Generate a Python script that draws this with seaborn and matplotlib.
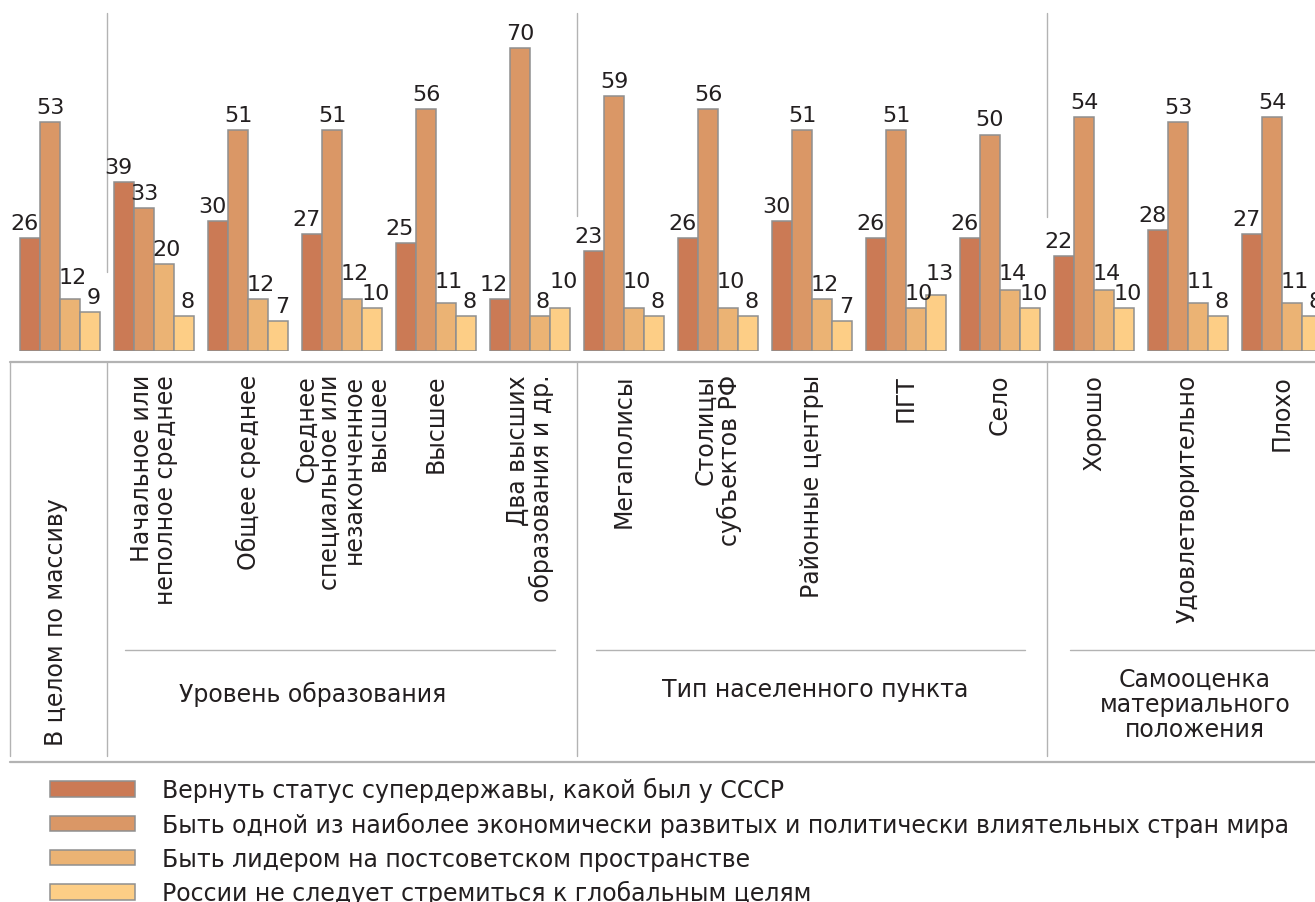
import matplotlib
matplotlib.use("Agg")
import matplotlib.pyplot as plt
import matplotlib.transforms as mtransforms
import pandas as pd
import seaborn as sns

# ---------------- data ----------------
categories = [
    "В целом по массиву",
    "Начальное или\nнеполное среднее",
    "Общее среднее",
    "Среднее\nспециальное или\nнезаконченное\nвысшее",
    "Высшее",
    "Два высших\nобразования и др.",
    "Мегаполисы",
    "Столицы\nсубъектов РФ",
    "Районные центры",
    "ПГТ",
    "Село",
    "Хорошо",
    "Удовлетворительно",
    "Плохо",
]
series = [
    "Вернуть статус супердержавы, какой был у СССР",
    "Быть одной из наиболее экономически развитых и политически влиятельных стран мира",
    "Быть лидером на постсоветском пространстве",
    "России не следует стремиться к глобальным целям",
]
superpower = [26, 39, 30, 27, 25, 12, 23, 26, 30, 26, 26, 22, 28, 27]
developed = [53, 33, 51, 51, 56, 70, 59, 56, 51, 51, 50, 54, 53, 54]
leader = [12, 20, 12, 12, 11, 8, 10, 10, 12, 10, 14, 14, 11, 11]
no_goals = [9, 8, 7, 10, 8, 10, 8, 8, 7, 13, 10, 10, 8, 8]
group_titles = ["Уровень образования", "Тип населенного пункта",
                "Самооценка\nматериального\nположения"]

colors = ["#CB7A55", "#DA9766", "#EBB374", "#FDCE86"]
TXT = "#231f20"
LINE = "#b3b3b3"

rows = []
for vals, s in zip([superpower, developed, leader, no_goals], series):
    for c, v in zip(categories, vals):
        rows.append({"cat": c, "series": s, "value": v})
df = pd.DataFrame(rows)

# ---------------- figure ----------------
sns.set_theme(style="white")
plt.rcParams["font.family"] = ["DejaVu Sans"]

W, H = 1315, 903
DPI = 100
fig = plt.figure(figsize=(W / DPI, H / DPI), dpi=DPI)

def fx(px):
    return px / W

def fy(py):
    return 1 - py / H

left_px, base_px, pitch = 13, 352, 94.0
unit = 4.33
ax = fig.add_axes([fx(left_px), fy(base_px), fx(W - left_px), base_px / H])

sns.barplot(data=df, x="cat", y="value", hue="series", order=categories,
            hue_order=series, palette=colors, width=0.851, errorbar=None,
            edgecolor="#8f8f8f", linewidth=1.1, saturation=1, ax=ax)

ax.set_xlim(-0.5, -0.5 + (W - left_px) / pitch)
ax.set_ylim(0, base_px / unit)
ax.set_axis_off()

handles, labels = ax.get_legend_handles_labels()
if ax.get_legend() is not None:
    ax.get_legend().remove()

# value labels (offsets in pixels above bar top; resolve 3rd/4th collisions)
px2pt = 72.0 / DPI
xshift_px = [-6, 0, 2.5, 4]
gap_px = 9
min_sep = 20
conts = list(ax.containers)
n = len(conts[0])
for j in range(n):
    tops = [conts[k][j].get_height() * unit for k in range(4)]  # px above base
    lift = [t + gap_px for t in tops]
    # keep labels of the 3rd and 4th bars apart
    if abs(lift[2] - lift[3]) < min_sep:
        if lift[2] >= lift[3]:
            lift[2] = lift[3] + min_sep
        else:
            lift[3] = lift[2] + min_sep
    for k in range(4):
        p = conts[k][j]
        h = p.get_height()
        ax.annotate(f"{h:.0f}", (p.get_x() + p.get_width() / 2, h),
                    xytext=(xshift_px[k] * px2pt, (lift[k] - tops[k]) * px2pt),
                    textcoords="offset points", ha="center", va="baseline",
                    fontsize=16, color=TXT, annotation_clip=False)

# separators in the bar area (between groups)
sep_x = [0.5, 5.5, 10.5]
sep_bottom_px = [273, 217, 218]
for sx, sb in zip(sep_x, sep_bottom_px):
    ax.plot([sx, sx], [(base_px - 14) / unit, (base_px - sb) / unit],
            color=LINE, lw=1.0, clip_on=False)

# table below
bt = mtransforms.blended_transform_factory(ax.transData, fig.transFigure)
fig.add_artist(plt.Line2D([fx(10), fx(W)], [fy(363), fy(363)], color=LINE, lw=1.6))
fig.add_artist(plt.Line2D([fx(10), fx(W)], [fy(763), fy(763)], color=LINE, lw=1.6))
fig.add_artist(plt.Line2D([fx(10), fx(10)], [fy(363), fy(757)], color=LINE, lw=1.0))
for sx in sep_x:
    ax.plot([sx, sx], [fy(363), fy(757)], transform=bt, color=LINE, lw=1.0,
            clip_on=False)
for a, b in [(125, 555), (596, 1025), (1070, W)]:
    fig.add_artist(plt.Line2D([fx(a), fx(b)], [fy(651), fy(651)], color=LINE, lw=1.0))

# category labels
for i, c in enumerate(categories):
    if i == 0:
        ax.text(i - 0.04, fy(746), c, transform=bt, rotation=90, ha="center",
                va="bottom", fontsize=17, color=TXT)
    else:
        ax.text(i, fy(375), c, transform=bt, rotation=90, ha="center",
                va="top", multialignment="right", fontsize=17, color=TXT,
                linespacing=0.98)

# group titles
fig.text(fx(313), fy(694), group_titles[0], ha="center", va="center",
         fontsize=17, color=TXT)
fig.text(fx(815), fy(690), group_titles[1], ha="center", va="center",
         fontsize=17, color=TXT)
fig.text(fx(1195), fy(705), group_titles[2], ha="center", va="center",
         fontsize=17, color=TXT, linespacing=1.05, multialignment="center")

# legend
leg = fig.legend(handles, labels, loc="upper left",
                 bbox_to_anchor=(fx(50), fy(778)), bbox_transform=fig.transFigure,
                 frameon=False, fontsize=17, handlelength=3.6, handleheight=0.64,
                 handletextpad=1.15, labelspacing=0.41, borderpad=0,
                 borderaxespad=0)
for t in leg.get_texts():
    t.set_color(TXT)

fig.savefig("out.png", dpi=DPI)
